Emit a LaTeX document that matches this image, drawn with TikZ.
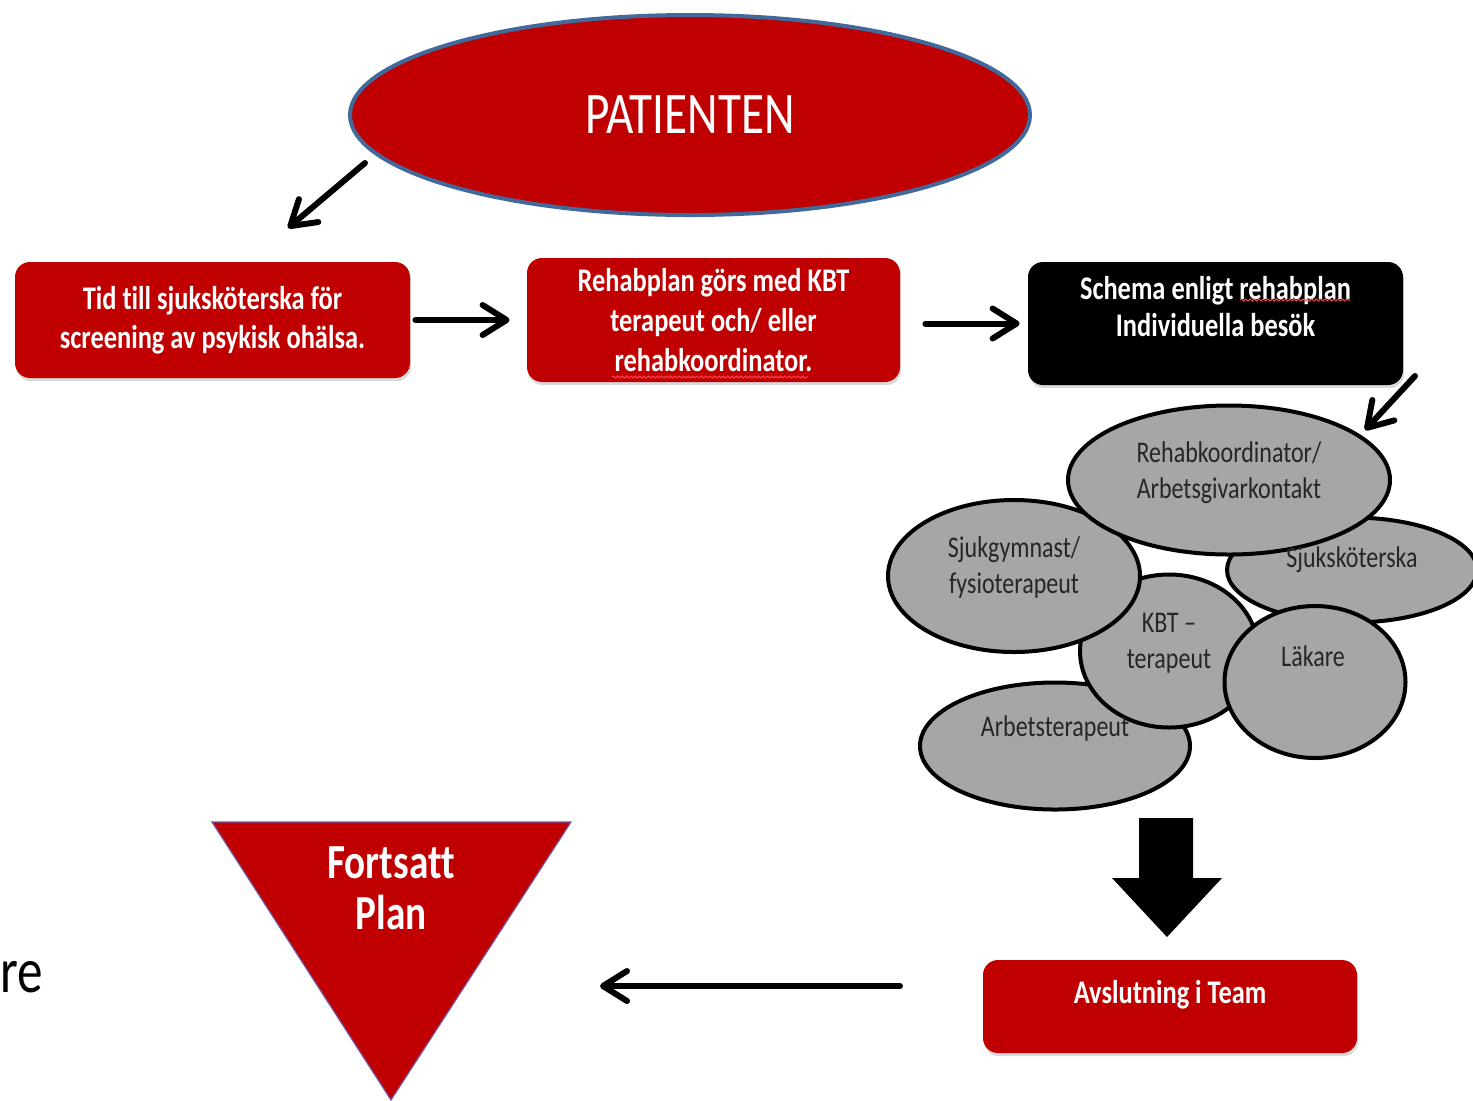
\documentclass[tikz,border=0pt]{standalone}
\usepackage{fontspec}
\setmainfont{Carlito}[FakeStretch=0.8, Ligatures=NoCommon]
\usepackage{tikz}
\usetikzlibrary{shapes, arrows.meta, positioning, shadows, decorations.pathmorphing}
\definecolor{boxred}{RGB}{192,0,0}
\definecolor{rolegray}{RGB}{166,166,166}
\definecolor{rimblue}{RGB}{65,105,155}
\definecolor{rimpurple}{RGB}{110,90,165}
\definecolor{spellred}{RGB}{255,70,70}

\begin{document}
\begin{tikzpicture}[
                x=0.5pt, y=-0.5pt,
                redbox/.style={fill=boxred, rounded corners=7.5pt, inner sep=0pt, align=center, text=white, font=\fontsize{16.5}{19.5}\selectfont\bfseries, drop shadow={shadow xshift=0.6pt, shadow yshift=-1.6pt, opacity=0.3}},
                boxtext/.style={inner sep=0pt, align=center, text=white, font=\fontsize{16.5}{18.5}\selectfont\bfseries},
                role/.style={ellipse, draw=black, line width=2pt, fill=rolegray, inner sep=0pt},
                roletext/.style={inner sep=0pt, align=center, text=black!85, font=\fontsize{15}{18}\selectfont},
                flow/.style={line width=3pt, line cap=round, line join=round, -{Straight Barb[length=12pt, width=15pt, round]}},
                spell/.style={spellred, line width=0.5pt, decorate, decoration={snake, amplitude=0.5pt, segment length=2.2pt}}
            ]
                \useasboundingbox (0,0) rectangle (1473,1100);

                \node[ellipse, draw=rimblue, line width=2pt, fill=boxred, minimum width=340pt, minimum height=100pt, inner sep=0pt, text=white, font=\fontsize{29.5}{30}\selectfont] (patient) at (690,115) {PATIENTEN};

                \node[redbox, minimum width=197.5pt, minimum height=58pt] (tid) at (212.5,320) {\raisebox{-2pt}{\shortstack{Tid till sjuksköterska för\\[2.2pt]screening av psykisk ohälsa.}}};
                \node[redbox, minimum width=186.5pt, minimum height=62pt, font=\fontsize{16.5}{20}\selectfont\bfseries] (rehabplan) at (713.5,320) {\raisebox{-1.5pt}{\shortstack{Rehabplan görs med KBT\\[2.5pt]terapeut och/ eller\\[2.5pt]rehabkoordinator.}}};
                \node[redbox, fill=black, minimum width=187.5pt, minimum height=61.5pt] (schema) at (1215.5,323.5) {};
                \node[boxtext, below=7pt of schema.north] (schematext) {Schema enligt rehabplan\\Individuella besök};

                \coordinate (patstart) at (365,163);
                \coordinate (patend) at (288,228);
                \coordinate (schemastart) at (1415,376);
                \coordinate (schemaend) at (1365,430);

                \draw[flow] (patstart) -- (patend);
                \draw[flow, shorten <=2.5pt, shorten >=8.5pt] (tid.east) -- (tid.east -| rehabplan.west);
                \draw[flow, shorten <=12.5pt, shorten >=4pt] (rehabplan.east |- schema.west) -- (schema.west);

                \draw[spell] (612,377) -- (808,377);
                \draw[spell] (1240,300) -- (1350,300);

                \node[role, minimum width=135pt, minimum height=63.5pt] (arbter) at (1055,746) {};
                \node[role, minimum width=89pt, minimum height=76.5pt] (kbt) at (1169,651) {};
                \node[role, minimum width=126pt, minimum height=76pt] (sjukgym) at (1014,576) {};
                \node[role, minimum width=125pt, minimum height=52.5pt] (sjukskot) at (1352,570) {};
                \node[role, minimum width=161pt, minimum height=74.5pt] (rehabko) at (1229,480) {};
                \node[role, minimum width=90.5pt, minimum height=76pt] (lakare) at (1315,682) {};

                \node[roletext, yshift=3.5pt] at (rehabko) {Rehabkoordinator/\\Arbetsgivarkontakt};
                \node[roletext, yshift=4.5pt] at (sjukgym) {Sjukgymnast/\\fysioterapeut};
                \node[roletext, yshift=5pt] at (sjukskot) {Sjuksköterska};
                \node[roletext, yshift=4pt] at (kbt) {KBT –\\terapeut};
                \node[roletext, yshift=13pt, xshift=-1pt] at (lakare) {Läkare};
                \node[roletext, yshift=9pt] at (arbter) {Arbetsterapeut};

                \draw[flow] (schemastart) -- (schemaend);

                \node[redbox, minimum width=187pt, minimum height=46.5pt] (avslut) at (1170,1006.5) {};
                \node[boxtext, below=10pt of avslut.north] (avsluttext) {Avslutning i Team};

                \fill (1139,818) -- (1193,818) -- (1193,878) -- (1222,878) -- (1167,937) -- (1112,878) -- (1139,878) -- cycle;

                \coordinate (tl) at (212,822);
                \coordinate (tr) at (571,822);
                \coordinate (tb) at (391,1100);
                \coordinate (tritop) at (391,822);
                \filldraw[fill=boxred, draw=rimpurple, line width=0.6pt] (tl) -- (tr) -- (tb) -- cycle;
                \node[boxtext, below=12pt of tritop, font=\fontsize{24.5}{25.5}\selectfont\bfseries] (fortsatt) {Fortsatt\\Plan};

                \coordinate (backstart) at (900,986);
                \coordinate (backend) at (600,986);
                \draw[flow] (backstart) -- (backend);

                \node[anchor=base west, inner sep=0pt, font=\fontsize{32}{38}\selectfont] (cut) at (0,992) {re};
            \end{tikzpicture}
\end{document}
